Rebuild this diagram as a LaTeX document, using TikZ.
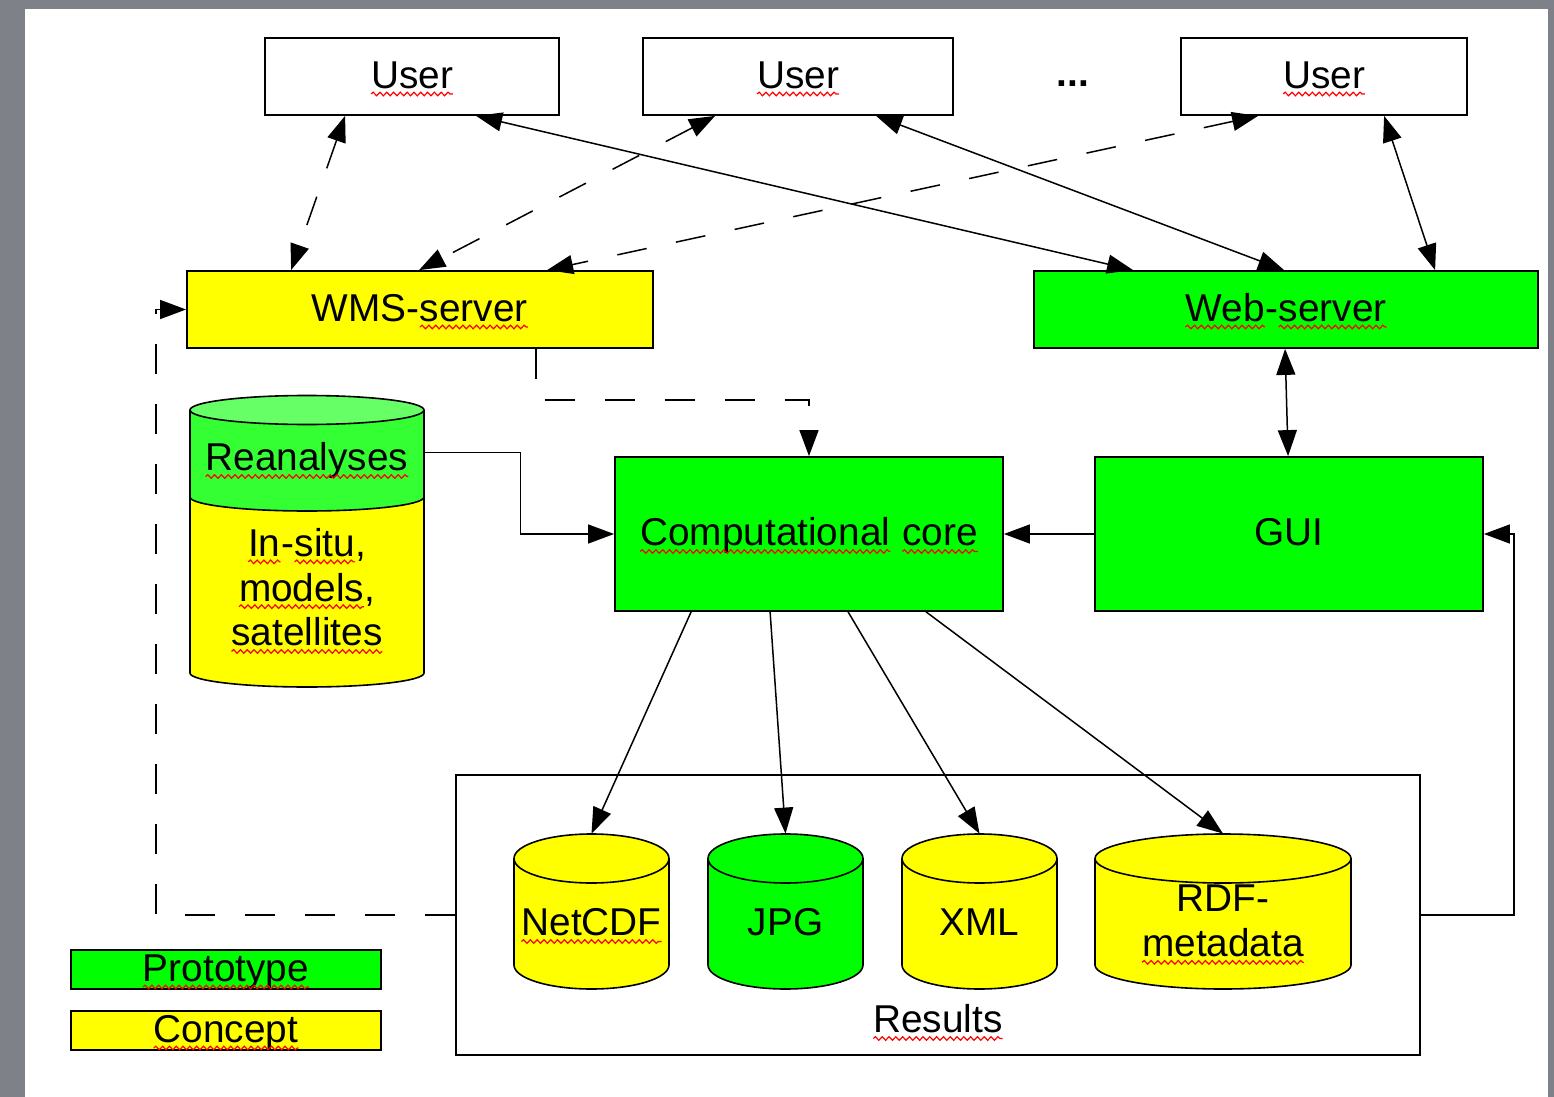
\documentclass[tikz,border=0pt]{standalone}
\usepackage{fontspec}
\setmainfont{Liberation Sans}
\usetikzlibrary{arrows.meta,calc,decorations.pathmorphing}
\newcommand\sq[1]{\tikz[baseline=(sqw.base),x=1pt,y=1pt]{\node[inner sep=0pt,outer sep=0pt,minimum width=0pt,minimum height=0pt,text height=,text depth=,anchor=base,draw=none,fill=none] (sqw) at (0,0) {#1};\draw[red,line width=0.6pt,decorate,decoration={snake,amplitude=0.9pt,segment length=3.4pt}] ([yshift=-2.8pt]sqw.base west) -- ([yshift=-2.8pt]sqw.base east);}}
\definecolor{bggrey}{HTML}{7F8189}
\definecolor{ygl}{HTML}{FFFF00}
\definecolor{grn}{HTML}{00FF00}
\definecolor{grnl}{HTML}{66FF66}
\definecolor{grnm}{HTML}{33FF33}
\newcommand\rescyl[3]{%
  \filldraw[fill=#1,cylline] (#2,965) ellipse [x radius=#3,y radius=24];
  \fill[#1] (#2-#3,858.5) rectangle (#2+#3,965);
  \draw[cylline] (#2-#3,858.5) -- (#2-#3,965) (#2+#3,858.5) -- (#2+#3,965);
  \filldraw[fill=#1,cylline] (#2,858.5) ellipse [x radius=#3,y radius=24.5];
}
\begin{document}
\begin{tikzpicture}[x=0.5pt,y=-0.5pt,
  font=\fontsize{19.4}{22.4}\selectfont,
  >={Triangle[length=13pt,width=9.5pt]},
  box/.style={draw=black,line width=0.9pt,inner sep=0pt,text height=13.9pt,text depth=2pt},
  txt/.style={inner sep=0pt,text height=13.9pt,text depth=2pt},
  mtxt/.style={inner sep=0pt,align=center},
  ghost/.style={inner sep=0pt,draw=none},
  ln/.style={line width=0.75pt},
  dsh/.style={ln,dash pattern=on 15pt off 15pt},
  cylline/.style={line width=0.8pt}]

\path[use as bounding box] (0,0) rectangle (1554,1097);
\fill[bggrey] (0,0) rectangle (1554,1097);
\fill[white] (25,9) rectangle (1548,1097);

% users
\node[box,fill=white,minimum width=147pt,minimum height=38.5pt] (u1) at (412,76.5) {\sq{User}};
\node[box,fill=white,minimum width=155pt,minimum height=38.5pt] (u2) at (798,76.5) {\sq{User}};
\node[box,fill=white,minimum width=143pt,minimum height=38.5pt] (u3) at (1324,76.5) {\sq{User}};
\node[inner sep=0pt,anchor=base] (dots) at (1073,87) {\textbf{...}};

% servers
\node[box,fill=ygl,minimum width=233pt,minimum height=38.5pt] (wms) at (420,309.5) {WMS-\sq{server}};
\node[box,fill=grn,minimum width=252pt,minimum height=38.5pt] (web) at (1286,309.5) {\sq{Web}-\sq{server}};

\node[box,fill=grn,minimum width=194pt,minimum height=77pt] (comp) at (809,534) {\sq{Computational} \sq{core}};
\node[box,fill=grn,minimum width=194pt,minimum height=77pt] (gui) at (1289,534) {GUI};

% results frame
\node[box,minimum width=482pt,minimum height=140pt] (res) at (938,915) {};
\node[txt] (restxt) at (938,1021) {\sq{Results}};

% legend
\node[box,fill=grn,minimum width=155pt,minimum height=19.5pt] (proto) at (226,969.5) {\sq{Prototype}};
\node[box,fill=ygl,minimum width=155pt,minimum height=19.5pt] (concept) at (226,1030.5) {\sq{Concept}};

% data cylinder
\filldraw[fill=ygl,cylline] (307,673) ellipse [x radius=117,y radius=14];
\fill[ygl] (190,497) rectangle (424,673);
\filldraw[fill=grnm,cylline] (307,497) ellipse [x radius=117,y radius=14];
\fill[grnm] (190,410) rectangle (424,497);
\draw[cylline] (190,410) -- (190,673) (424,410) -- (424,673);
\filldraw[fill=grnl,cylline] (307,410) ellipse [x radius=117,y radius=14.5];
\node[ghost,minimum width=117pt,minimum height=146pt] (rean) at (307,541) {};
\node[txt] (reantxt) at (307,459) {\sq{Reanalyses}};
\node[mtxt] (insitu) at (307,591) {\sq{In}-\sq{situ},\\\sq{models},\\\sq{satellites}};

% result cylinders
\rescyl{ygl}{591.5}{77.5}
\rescyl{grn}{785.5}{77.5}
\rescyl{ygl}{979.5}{77.5}
\rescyl{ygl}{1223}{128}
\node[ghost,minimum width=77.5pt,minimum height=77.5pt] (netcdf) at (591.5,911.5) {};
\node[ghost,minimum width=77.5pt,minimum height=77.5pt] (jpg) at (785.5,911.5) {};
\node[ghost,minimum width=77.5pt,minimum height=77.5pt] (xml) at (979.5,911.5) {};
\node[ghost,minimum width=128pt,minimum height=77.5pt] (rdf) at (1223,911.5) {};
\node[txt] (netcdftxt) at (591.5,924) {\sq{NetCDF}};
\node[txt] (jpgtxt) at (785.5,924) {JPG};
\node[txt] (xmltxt) at (979.5,924) {XML};
\node[mtxt] (rdftxt) at (1223,925) {RDF-\\\sq{metadata}};

% users - WMS (dashed)
\draw[dsh,<->] ($(u1.south west)+(81,0)$) -- ($(wms.north west)+(105,0)$);
\draw[dsh,<->] ($(u2.south west)+(73,0)$) -- ($(wms.north west)+(233,0)$);
\draw[dsh,<->] ($(u3.south west)+(78,0)$) -- ($(wms.north west)+(361,0)$);
% users - Web (solid)
\draw[ln,<->] ($(u1.south west)+(212,0)$) -- ($(web.north west)+(100,0)$);
\draw[ln,<->] ($(u2.south west)+(234,0)$) -- ($(web.north west)+(251,0)$);
\draw[ln,<->] ($(u3.south west)+(204,0)$) -- ($(web.north west)+(402,0)$);
% Web - GUI
\draw[ln,<->] ($(web.south west)+(252,0)$) -- ($(gui.north west)+(194,0)$);
% WMS -> core
\coordinate (wmsbend) at ($(comp.north)+(0,-56)$);
\draw[dsh,->] ($(wms.south west)+(350,0)$) |- (wmsbend) -- (comp.north);
% data -> core
\draw[ln,->] ($(rean.north east)+(0,58)$) -- ++(96,0) |- (comp.west);
% GUI -> core
\draw[ln,->] (gui.west) -- (comp.east);
% core -> results
\draw[ln,->] ($(comp.south west)+(77,0)$) -- (netcdf.north);
\draw[ln,->] ($(comp.south west)+(156,0)$) -- (jpg.north);
\draw[ln,->] ($(comp.south west)+(234,0)$) -- (xml.north);
\draw[ln,->] ($(comp.south west)+(312,0)$) -- (rdf.north);
% results -> WMS, results -> GUI
\draw[dsh,->] (res.west) -- ++(-299,0) |- (wms.west);
\draw[ln,->] (res.east) -- ++(93,0) |- (gui.east);
\end{tikzpicture}
\end{document}
